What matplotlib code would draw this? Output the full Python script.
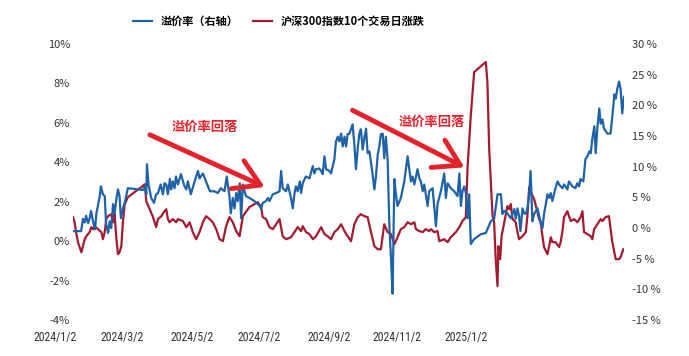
import matplotlib
matplotlib.use('Agg')
import matplotlib.pyplot as plt
from matplotlib import font_manager

plt.rcParams['font.family'] = ['Noto Sans CJK SC', 'DejaVu Sans']

# (trading day, value %)
# 溢价率 -> right axis
premium = [
    (0, -0.5), (3.6, -0.5), (4.4, 1.5), (5.2, 0.9), (5.8, 2.0), (6.7, 0.8), (7.4, 1.6), (8, 2.8),
    (8.9, 1.1), (9.8, -0.2), (10.4, 2.4), (11.9, 5.2), (12.4, 6.8), (13.3, 5.5), (14.1, 5.2),
    (14.7, 0.7), (15.6, -0.8), (16.3, 1.1), (17, 0.0), (17.8, 3.9), (18.5, 2.4), (19.3, 4.7),
    (20, 6.3), (20.7, 5.2), (21.3, 1.6), (22.2, 3.2), (23, 4.1), (24.4, 6.5), (28.9, 6.3),
    (31.1, 6.2), (32, 6.8), (32.6, 5.5), (32.9, 10.4), (33.6, 7.1), (34.8, 4.9), (36, 4.1),
    (37, 5.5), (37.8, 5.7), (39, 7.1), (40, 5.5), (40.7, 7.3), (41.5, 7.1), (42.2, 5.5),
    (43.1, 8.0), (43.7, 6.3), (44.4, 7.6), (45.2, 6.5), (45.8, 8.4), (46.7, 7.1), (48, 8.8),
    (49.6, 6.8), (50.4, 6.3), (51.1, 7.6), (52.4, 5.5), (54.1, 7.6), (55.6, 9.3), (56.3, 8.1),
    (57.8, 8.9), (59.2, 7.6), (60.9, 6.0), (62.9, 6.0), (64.4, 5.7), (65.8, 6.5), (67.4, 6.0),
    (68.4, 8.4), (69.6, 5.2), (70.2, 2.4), (71.1, 4.9), (71.9, 3.2), (72.6, 5.7), (73.3, 4.4),
    (74.2, 7.3), (74.8, 1.6), (75.6, 7.1), (76.3, 6.0), (77, 5.2), (78.5, 4.9), (80.7, 4.4),
    (83.1, 3.6), (83.7, 3.1), (84.4, 4.1), (85.9, 4.4), (86.7, 4.9), (87.4, 4.4), (88.9, 5.5),
    (90.4, 5.7), (91.9, 6.0), (92.6, 9.3), (93.3, 6.5), (94.8, 6.0), (95.6, 7.1), (97, 4.9),
    (97.8, 3.2), (98.5, 5.5), (99.2, 6.8), (100, 6.0), (100.9, 7.6), (101.5, 5.7), (102.2, 7.3),
    (103.6, 8.4), (105.2, 8.1), (106.7, 10.1), (107.4, 8.9), (108.1, 9.6), (109.6, 9.7),
    (110.4, 9.3), (111.1, 8.8), (111.9, 11.7), (112.6, 9.6), (114.1, 9.3), (114.8, 8.9),
    (116.3, 11.2), (117, 14.1), (117.8, 14.9), (118.5, 14.1), (119.3, 15.4), (120, 13.3),
    (120.8, 14.9), (121.5, 13.3), (122.2, 15.3), (123, 15.4), (124.4, 16.9), (125.2, 13.6),
    (125.9, 9.6), (126.7, 13.0), (127.4, 15.4), (128.1, 16.1), (128.9, 12.8), (129.6, 14.6),
    (130.4, 16.2), (131.1, 12.2), (131.9, 12.5), (133.3, 8.8), (134.1, 6.3), (134.8, 8.4),
    (135.6, 12.0), (136.3, 13.3), (137, 15.3), (137.8, 15.4), (138.5, 11.4), (139.2, 14.9),
    (140, 11.2), (140.8, 0.0), (141.5, -4.9), (142.2, -10.7), (143, 8.0), (143.7, 5.5),
    (144.4, 3.6), (145.9, 4.9), (147.4, 7.6), (148.9, 11.7), (149.6, 9.7), (150.4, 7.6),
    (151.1, 8.4), (151.9, 7.1), (153.3, 9.6), (154.1, 8.1), (154.8, 7.6), (155.6, 6.0),
    (156.3, 7.1), (157.8, 3.6), (158.5, 6.0), (160, 6.5), (161.5, 0.3), (162.2, 3.9),
    (163.7, 6.0), (165.2, 8.9), (165.9, 4.9), (166.7, 7.3), (168.1, 6.5), (169.6, 6.0),
    (171.1, 5.2), (171.9, 8.9), (172.6, 3.6), (173.3, 6.0), (174.1, 6.8), (174.8, 5.7),
    (175.6, 1.6), (176.3, 5.5), (177, -2.6), (178.5, -1.8), (181.5, -1.0), (183.7, -0.8),
    (184.4, -0.2), (185.9, 1.1), (187.4, 1.5), (188.9, 5.5), (190.4, 5.5), (191.1, 2.3),
    (191.9, 2.8), (193.3, 2.4), (194.8, 1.6), (196.4, 3.1), (197, 1.5), (197.8, 3.2),
    (198.5, 1.9), (199.1, -0.5), (200, 3.2), (200.8, 2.4), (201.5, 2.3), (202.2, 3.2),
    (203, 5.5), (203.6, 9.3), (204, 5.5), (204.4, 1.1), (205.2, 2.3), (206.7, 3.2), (208, 1.1),
    (208.9, 0.0), (209.6, 2.3), (210.4, 3.9), (211.1, 5.5), (211.9, 4.9), (212.6, 5.7),
    (213.3, 4.4), (214.7, 6.5), (215.6, 7.6), (216.3, 7.1), (217.8, 6.5), (218.5, 7.1),
    (220, 6.3), (220.7, 7.6), (222.2, 6.8), (223.6, 6.5), (224.4, 7.3), (225.2, 6.8),
    (225.8, 8.0), (227.1, 7.6), (228, 11.2), (228.9, 11.7), (229.8, 12.5), (230.4, 12.2),
    (231.1, 14.6), (232, 16.6), (232.6, 12.2), (233.3, 16.2), (234.2, 19.5), (234.8, 17.0),
    (235.6, 17.7), (236.3, 16.2), (237.8, 15.4), (239.2, 15.4), (240, 18.2), (240.9, 21.8),
    (241.5, 21.1), (242.2, 22.7), (243, 23.9), (243.7, 22.6), (244.4, 18.7), (245.2, 21.4),
]

# 沪深300指数10个交易日涨跌 -> left axis
csi300_10d = [
    (0, 1.22), (0.7, 0.96), (1.5, 0.36), (2.2, -0.05), (3.7, -0.56), (4.4, -0.25), (5.2, 0.1),
    (5.9, 0.25), (7.4, 0.46), (8.1, 0.71), (8.9, 0.61), (9.6, 0.76), (11.1, 0.61), (12.6, 0.46),
    (13.3, 0.1), (14.1, 0.46), (14.8, 1.12), (15.6, 1.27), (17, 1.37), (17.8, 0.96), (18.5, 1.37),
    (19.3, 0.1), (20, -0.66), (20.7, -0.56), (21.5, -0.25), (22.2, 0.96), (23, 1.88), (24.4, 2.23),
    (27.4, 2.49), (30.4, 2.74), (31.9, 2.89), (32.6, 2.03), (34.1, 1.62), (35.6, 1.22), (37, 0.71),
    (37.8, 1.12), (39.3, 1.27), (40.7, 1.52), (41.5, 1.62), (42.2, 1.12), (43, 0.96), (44.4, 1.12),
    (45.9, 0.96), (46.7, 1.12), (48.9, 1.02), (50.4, 0.71), (51.9, 0.96), (53.3, 0.46), (54.8, 0.1),
    (56.3, 0.46), (57.8, 0.96), (59.2, 1.27), (60.8, 1.12), (62.2, 0.96), (63.7, 0.61), (65.2, 0.1),
    (66.7, 0.0), (68.1, 0.76), (69.6, 1.22), (71.1, 0.96), (72.6, 0.51), (74.1, 0.25), (75.6, 1.27),
    (78.5, 1.73), (82.2, 1.98), (83.7, 1.73), (84.4, 1.22), (85.9, 1.12), (87.4, 0.71), (88.9, 0.61),
    (90.4, 0.86), (91.9, 1.12), (93.3, 0.25), (94.8, 0.1), (97, 0.2), (98.5, 0.46), (100, 0.71),
    (101.5, 0.51), (102.2, 0.76), (103.7, 0.46), (105.2, 0.36), (106.7, 0.1), (108.1, 0.25),
    (110.4, 0.71), (111.9, 0.36), (113.3, 0.25), (114.8, 0.1), (116.3, 0.46), (117.8, 0.61),
    (119.3, 0.86), (120.8, 0.51), (122.2, 0.25), (123.7, 0.0), (125.2, 0.86), (126.7, 1.22),
    (128.1, 1.37), (129.6, 1.27), (131.1, 1.22), (132.6, 0.46), (134.1, -0.25), (135.6, -0.41),
    (137, -0.41), (138.5, 0.86), (140, 0.46), (141.5, 0.36), (143, -0.15), (144.4, 0.2),
    (145.9, 0.61), (147.4, 0.71), (148.9, 0.96), (150.4, 0.86), (151.9, 0.96), (152.6, 0.61),
    (154.1, 0.51), (155.6, 0.46), (157, 0.61), (158.5, 0.51), (159.3, 0.61), (160.7, 0.46),
    (162.2, 0.51), (163, 0.0), (165.2, 0.1), (166.7, -0.05), (168.1, 0.2), (170.4, 0.46),
    (171.9, 0.71), (173.3, 1.02), (174.8, 1.22), (175.6, 3.81), (177, 6.35), (178.5, 8.58),
    (183.7, 9.09), (184.4, 8.07), (185.2, 4.67), (186.7, 1.27), (187.4, 0.96), (188.1, -0.91),
    (188.9, -2.28), (189.3, -0.25), (190.1, -0.91), (190.7, 0.25), (191.9, 0.96), (193.3, 1.78),
    (194.1, 1.62), (194.8, 1.88), (195.6, 1.12), (197, 0.96), (197.8, 0.46), (198.5, 0.1),
    (200, 0.25), (201.5, 0.46), (202.2, 1.27), (203, 2.74), (203.7, 2.49), (205.2, 2.13),
    (206.7, 1.47), (207.4, 1.12), (208.1, 0.96), (208.9, 0.25), (209.6, -0.3), (211.1, -0.66),
    (211.9, -0.25), (212.6, 0.2), (213.3, -0.05), (214.8, -0.05), (216.3, -0.3), (217, -0.05),
    (217.8, 0.51), (218.5, 1.22), (220, 1.52), (220.7, 1.27), (221.5, 1.02), (223, 1.12),
    (224.4, 0.96), (225.9, 1.22), (226.7, 1.52), (227.4, 0.46), (228.9, 0.36), (230.4, 0.25),
    (231.1, 0.1), (231.9, 0.61), (233.3, 0.86), (234.8, 1.12), (235.6, 1.02), (237, 1.22),
    (238.5, 1.27), (240, -0.05), (241.5, -0.91), (243, -0.91), (243.7, -0.81), (244.9, -0.41),
]

date_labels = ['2024/1/2', '2024/3/2', '2024/5/2', '2024/7/2', '2024/9/2', '2024/11/2', '2025/1/2']
label_days = [-8, 22, 53, 83, 114, 144, 175]

left_ticks = [-4, -2, 0, 2, 4, 6, 8, 10]
right_ticks = [-15, -10, -5, 0, 5, 10, 15, 20, 25, 30]

legend_labels = ['溢价率（右轴）', '沪深300指数10个交易日涨跌']
note_text = '溢价率回落'
# arrows on the right axis scale: (start, tip, text position)
notes = [((34.2, 15.2), (85.3, 6.7), (58.7, 16.5)),
         ((124.4, 19.2), (174.2, 9.9), (159.6, 17.3))]

blue = '#1f63a6'
red = '#a31b30'
arrow_red = '#e3232b'
txt = '#333333'

# narrow font for the dates if one is installed
names = set(f.name for f in font_manager.fontManager.ttflist)
narrow = [n for n in ['Liberation Sans Narrow', 'DejaVu Sans Condensed', 'Noto Sans Condensed',
                      'Roboto Condensed', 'Open Sans Condensed'] if n in names]
date_font = dict(family=(narrow[:1] or ['DejaVu Sans']), fontstretch='condensed',
                 fontsize=8.5 if narrow else 6.8)

fig = plt.figure(figsize=(6.89, 3.56), dpi=100)
ax = fig.add_axes([0.106, 0.101, 0.7997, 0.7753])
ax2 = ax.twinx()

rx, ry = zip(*csi300_10d)
bx, by = zip(*premium)
l_red, = ax.plot(rx, ry, color=red, lw=1.6)
l_blue, = ax2.plot(bx, by, color=blue, lw=1.6)

ax.set_xlim(0, 245.2)
ax.set_ylim(-4, 10)
ax2.set_ylim(-15, 30)

ax.set_yticks(left_ticks)
ax.set_yticklabels([f'{v}%' for v in left_ticks])
ax2.set_yticks(right_ticks)
ax2.set_yticklabels([f'{v} %' for v in right_ticks])
ax.set_xticks([])
ax.tick_params(axis='y', length=0, pad=2.2, labelsize=8, labelcolor=txt)
ax2.tick_params(axis='y', length=0, pad=5.5, labelsize=8, labelcolor=txt)

for a in (ax, ax2):
    for s in a.spines.values():
        s.set_visible(False)

for d, lab in zip(label_days, date_labels):
    ax.text(d, -0.062, lab, transform=ax.get_xaxis_transform(), ha='center', va='center',
            color=txt, **date_font)

for start, tip, tpos in notes:
    ax2.annotate('', xy=tip, xytext=start,
                 arrowprops=dict(arrowstyle='->,head_length=0.9,head_width=0.55',
                                 lw=3.5, color=arrow_red, mutation_scale=20,
                                 shrinkA=0, shrinkB=0))
    ax2.text(tpos[0], tpos[1], note_text, ha='center', va='center', fontsize=9.5,
             fontweight='bold', color=arrow_red)

fig.legend([l_blue, l_red], legend_labels, loc='center', bbox_to_anchor=(0.405, 0.941),
           ncol=2, frameon=False, prop={'weight': 'bold', 'size': 8},
           handlelength=1.7, handletextpad=0.8, columnspacing=1.3)

fig.savefig('out.png', dpi=100)
